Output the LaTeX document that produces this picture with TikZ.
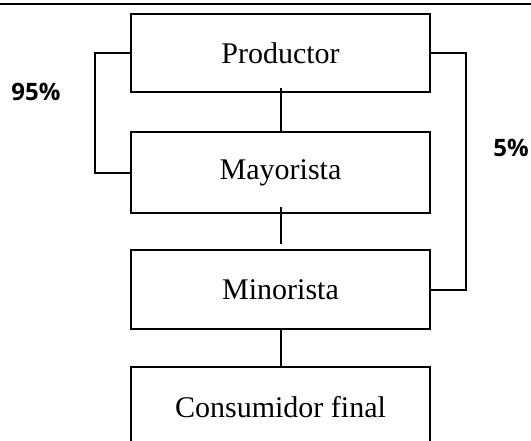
\documentclass[tikz,border=0pt]{standalone}
\usepackage{fontspec}
\setmainfont{Liberation Serif}
\newfontfamily\labfont{Open Sans}
\begin{document}
\begin{tikzpicture}[x=1pt,y=-1pt,
  box/.style={draw, line width=2.2pt, minimum width=299pt, inner sep=0pt,
    font=\fontsize{30}{32}\selectfont},
  conn/.style={line width=2pt},
  pct/.style={font=\labfont\bfseries\fontsize{24}{26}\selectfont, inner sep=0pt}]
\useasboundingbox (0,0) rectangle (531,440);
\clip (0,0) rectangle (531,440);
\draw[line width=2pt] (0,3.5) -- (531,3.5);
\node[box, minimum height=78pt] (P) at (280.5,53) {Productor};
\node[box, minimum height=81pt] (M) at (280.5,172.5) {Mayorista};
\node[box, minimum height=79pt] (Mi) at (280.5,289.5) {Minorista};
\node[box, minimum height=80pt, text depth=0pt] (C) at (280.5,407) {Consumidor final};
\node[pct] (p95) at (36,92) {95\%};
\node[pct] (p5) at (511,148) {5\%};
\draw[conn] ([yshift=5pt]P.south) -- ([yshift=-2pt]M.north);
\draw[conn] ([yshift=7pt]M.south) -- ([yshift=5pt]Mi.north);
\draw[conn] (Mi.south) -- (C.north);
\draw[conn] (P.west) -- ++(-35,0) |- (M.west);
\draw[conn] (P.east) -- ++(35,0) |- (Mi.east);
\end{tikzpicture}
\end{document}
